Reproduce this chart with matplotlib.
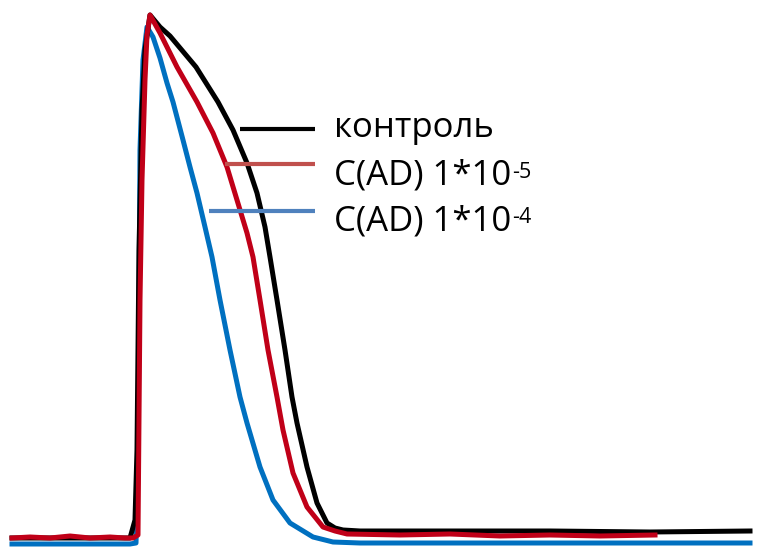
#!/usr/bin/env python3
"""
Action potential traces: control vs. C(AD) at two concentrations, no axes.
"""

import matplotlib

matplotlib.use("Agg")
import matplotlib.pyplot as plt

FONT = ["Open Sans", "DejaVu Sans"]
FONT_SIZE = 25

# traces, in picture units (x to the right, y downwards)
control_x = [12, 60, 100, 130, 135, 137, 139, 142, 145, 150, 160, 170, 196, 218, 233,
             247, 257, 265, 270, 277, 285, 292, 297, 307, 317, 327, 335, 343, 360,
             450, 550, 650, 750]
control_y = [538, 538, 538, 538, 520, 450, 250, 110, 50, 15, 27, 36, 67, 102, 130,
             163, 193, 227, 257, 300, 350, 397, 423, 467, 503, 523, 528, 530, 531,
             531, 531, 532, 531]

ad5_x = [12, 30, 50, 70, 90, 110, 125, 133, 138, 140, 142, 145, 147, 150, 160, 177, 197,
         213, 227, 237, 247, 253, 260, 268, 277, 283, 293, 307, 323, 335, 347, 400,
         450, 500, 550, 600, 655]
ad5_y = [538, 537, 538, 536, 538, 537, 538, 538, 535, 300, 180, 80, 35, 15, 33, 67, 102,
         133, 167, 200, 233, 257, 300, 350, 397, 430, 473, 507, 527, 531, 534, 535,
         534, 536, 535, 536, 535]

ad4_x = [12, 60, 100, 130, 136, 138, 140, 143, 147, 153, 160, 167, 173, 183, 190,
         197, 205, 212, 220, 230, 240, 247, 260, 273, 290, 313, 333, 360, 450, 550,
         650, 750]
ad4_y = [544, 544, 544, 544, 543, 470, 150, 60, 27, 37, 58, 83, 102, 140, 167,
         193, 227, 257, 300, 350, 397, 423, 467, 500, 523, 537, 542, 543, 543, 543,
         543, 543]

labels = ["контроль", "C(AD) 1*10", "C(AD) 1*10"]
exponents = ["", "-5", "-4"]

trace_colors = ["#000000", "#C00018", "#0070C0"]
key_colors = ["#000000", "#C0504D", "#4F81BD"]

# legend layout: key line start, shared key end, row heights
key_x0 = [240, 225, 209]
key_x1 = 315
key_y = [129, 164, 211]
text_y = [128, 176, 221]
text_x = 334


def main() -> None:
    fig = plt.figure(figsize=(7.77, 5.47), dpi=100)
    ax = fig.add_axes([0, 0, 1, 1])
    ax.set_xlim(0, 777)
    ax.set_ylim(547, 0)
    ax.axis("off")

    traces = [(control_x, control_y), (ad5_x, ad5_y), (ad4_x, ad4_y)]
    # blue underneath, then black, red on top
    for i in [2, 0, 1]:
        xs, ys = traces[i]
        ax.plot(xs, ys, color=trace_colors[i], linewidth=3.6,
                solid_joinstyle="round", zorder=2 + (i == 1))

    for i, label in enumerate(labels):
        ax.plot([key_x0[i], key_x1], [key_y[i], key_y[i]], color=key_colors[i],
                linewidth=3.0, solid_capstyle="butt", zorder=5)
        t = ax.text(text_x, text_y[i], label, family=FONT, fontsize=FONT_SIZE,
                    va="center", ha="left")
        if exponents[i]:
            ax.annotate(exponents[i], xy=(1, 1), xycoords=t, xytext=(0.5, -2),
                        textcoords="offset points", family=FONT,
                        fontsize=15.5, va="top", ha="left")

    fig.savefig("out.png", dpi=100)
    plt.close(fig)


if __name__ == "__main__":
    main()
